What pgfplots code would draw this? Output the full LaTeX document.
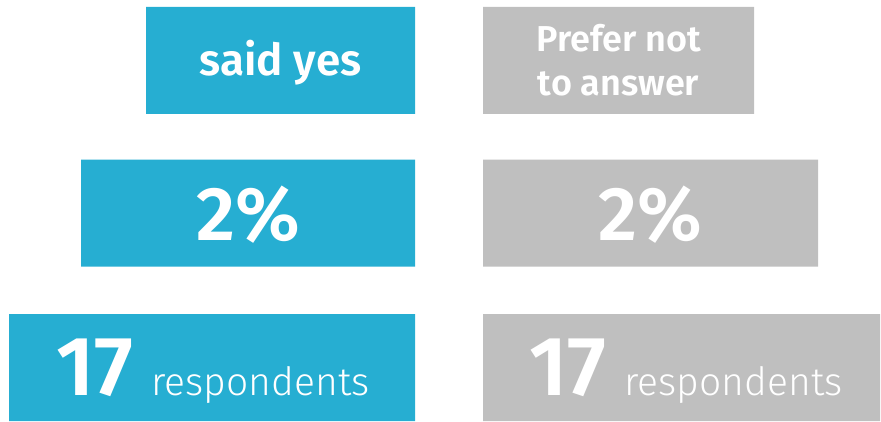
\documentclass[border=0pt]{standalone}
\usepackage{pgfplots}
\pgfplotsset{compat=1.18}
\usepackage{fontspec}
\setmainfont{Fira Sans}
\newfontfamily\firalight{Fira Sans Light}
\newfontfamily\firasemi{Fira Sans SemiBold}
\definecolor{cblue}{RGB}{38,174,210}
\definecolor{cgray}{RGB}{191,191,191}
\begin{document}
\begin{tikzpicture}
\begin{axis}[
  scale only axis, width=881bp, height=422bp,
  xmin=0, xmax=881, ymin=0, ymax=422, y dir=reverse,
  axis lines=none, xbar stacked, bar width=107,
  clip=false,
]
% row centres: 60.5 (label), 213 (share), 367.5 (count)
\addplot[draw=none, fill=none] coordinates {(146,60.5) (81,213) (9,367.5)};
\addplot[draw=none, fill=cblue] coordinates {(269,60.5) (334,213) (406,367.5)};
\addplot[draw=none, fill=none] coordinates {(68,60.5) (68,213) (68,367.5)};
\addplot[draw=none, fill=cgray] coordinates {(271,60.5) (335,213) (397,367.5)};
\end{axis}
\begin{axis}[
  scale only axis, width=881bp, height=422bp,
  xmin=0, xmax=881, ymin=0, ymax=422, y dir=reverse,
  axis lines=none, clip=false,
]
\node[text=white, anchor=base, font=\firasemi\fontsize{44bp}{50bp}\selectfont] at (axis cs:280.5,76) {said yes};
\node[text=white, anchor=base, font=\firasemi\fontsize{36bp}{43bp}\selectfont] at (axis cs:618.5,52) {Prefer not};
\node[text=white, anchor=base, font=\firasemi\fontsize{36bp}{43bp}\selectfont] at (axis cs:618.5,95) {to answer};
\node[text=white, anchor=base, font=\firasemi\fontsize{76bp}{80bp}\selectfont] at (axis cs:248,240) {2\%};
\node[text=white, anchor=base, font=\firasemi\fontsize{76bp}{80bp}\selectfont] at (axis cs:650.5,240) {2\%};
\node[text=white, anchor=base] at (axis cs:213,395) {\firasemi\fontsize{84bp}{84bp}\selectfont 17\hspace{18bp}\firalight\fontsize{39bp}{50bp}\selectfont respondents};
\node[text=white, anchor=base] at (axis cs:686,395) {\firasemi\fontsize{84bp}{84bp}\selectfont 17\hspace{18bp}\firalight\fontsize{39bp}{50bp}\selectfont respondents};
\end{axis}
\pgfresetboundingbox
\useasboundingbox (current axis.south west) rectangle (current axis.north east);
\end{tikzpicture}
\end{document}
